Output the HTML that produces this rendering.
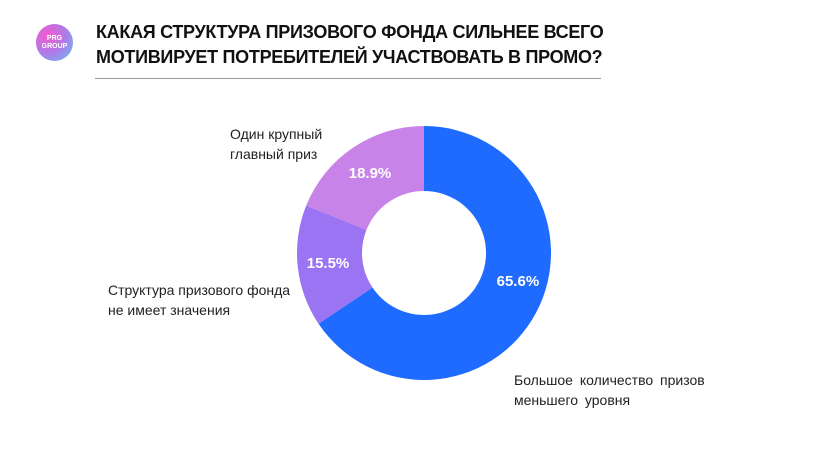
<!DOCTYPE html>
<html><head><meta charset="utf-8"><style>
body{margin:0;width:834px;height:466px;background:#fff;font-family:"Liberation Sans","DejaVu Sans",sans-serif;overflow:hidden;position:relative}
.t{position:absolute;left:96px;top:20px;font-weight:bold;font-size:18px;line-height:25px;color:#111;letter-spacing:-0.3px}
.rule{position:absolute;left:95px;top:78px;width:506px;height:1px;background:#999}
.logo{position:absolute;left:36px;top:24px;width:37px;height:37px;border-radius:50%;background:radial-gradient(circle at 30% 30%,#f25ad0,#b07ae8 50%,#5fc6f0);color:#fff;font-size:7px;font-weight:bold;text-align:center;line-height:8px;padding-top:11px;box-sizing:border-box}
.lbl{position:absolute;font-size:14px;line-height:20px;color:#222}
</style></head><body>
<div class="logo">PRG<br>GROUP</div>
<div class="t">КАКАЯ СТРУКТУРА ПРИЗОВОГО ФОНДА СИЛЬНЕЕ ВСЕГО<br>МОТИВИРУЕТ ПОТРЕБИТЕЛЕЙ УЧАСТВОВАТЬ В ПРОМО?</div>
<div class="rule"></div>
<svg id="c" width="834" height="466" style="position:absolute;left:0;top:0"></svg>
<div class="lbl" style="left:230px;top:124px">Один крупный<br>главный приз</div>
<div class="lbl" style="left:108px;top:280px">Структура призового фонда<br>не имеет значения</div>
<div class="lbl" style="left:514px;top:370px;word-spacing:3px">Большое количество призов<br>меньшего уровня</div>
<script>
const categories=["Большое количество призов меньшего уровня","Структура призового фонда не имеет значения","Один крупный главный приз"];
const values=[65.6,15.5,18.9];
const labels=["65.6%","15.5%","18.9%"];
const colors=["#1f6bff","#9a74f3","#c883e8"];
const svg=document.getElementById('c'),NS="http://www.w3.org/2000/svg";
const cx=424,cy=253,R=127,r=62;
const total=values.reduce((a,b)=>a+b,0);
let a0=0;
function pt(a,rad){return [cx+rad*Math.sin(a),cy-rad*Math.cos(a)];}
values.forEach((v,i)=>{
 const a1=a0+v/total*2*Math.PI,large=(a1-a0)>Math.PI?1:0;
 const [x0,y0]=pt(a0,R),[x1,y1]=pt(a1,R),[x2,y2]=pt(a1,r),[x3,y3]=pt(a0,r);
 const p=document.createElementNS(NS,'path');
 p.setAttribute('d',`M${x0},${y0}A${R},${R} 0 ${large} 1 ${x1},${y1}L${x2},${y2}A${r},${r} 0 ${large} 0 ${x3},${y3}Z`);
 p.setAttribute('fill',colors[i]);
 
 
 svg.appendChild(p);
 const big=(a1-a0)>Math.PI;
 const am=big?(a0+a1)/2-0.2:(a0+a1)/2;
 const [tx,ty]=pt(am,big?98:(R+r)/2+2);
 const t=document.createElementNS(NS,'text');
 t.setAttribute('x',tx);t.setAttribute('y',ty+5);
 t.setAttribute('text-anchor','middle');t.setAttribute('fill','#fff');
 t.setAttribute('font-weight','bold');t.setAttribute('font-size','15');
 t.textContent=labels[i];
 
 
 svg.appendChild(t);
 a0=a1;
});
</script>
</body></html>
